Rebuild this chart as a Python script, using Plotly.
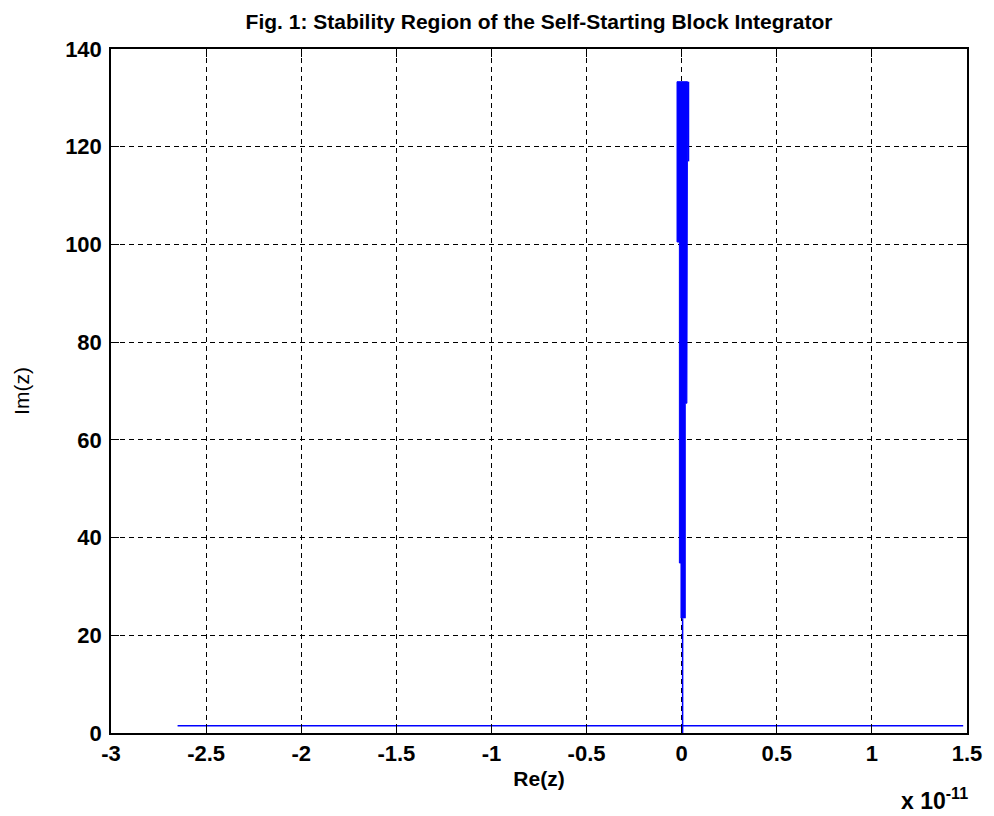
import plotly.graph_objects as go

# Values (x in units of 1e-11)
base_x = [-2.65, 1.48]
base_y = [1.5, 1.5]

stem_x = [0.005, 0.005]
stem_y = [0.0, 23.5]

# envelope of the dense oscillating band near Re(z)=0
band_left_x = [-0.0036, -0.0036, -0.012, -0.012, -0.0244, -0.0244]
band_left_y = [23.5, 34.8, 34.8, 100.5, 100.5, 133.3]
band_right_x = [0.031, 0.031, 0.0275, 0.0275, 0.019, 0.019]
band_right_y = [133.3, 111.0, 111.0, 67.5, 67.5, 23.5]

spike_x = [0.036, 0.036]
spike_y = [117.0, 133.3]

x_ticks = [-3, -2.5, -2, -1.5, -1, -0.5, 0, 0.5, 1, 1.5]
y_ticks = [0, 20, 40, 60, 80, 100, 120, 140]

BLUE = "#0000FF"

fig = go.Figure()
fig.add_trace(go.Scatter(x=base_x, y=base_y, mode="lines",
                         line=dict(color=BLUE, width=1.5), showlegend=False))
fig.add_trace(go.Scatter(x=stem_x, y=stem_y, mode="lines",
                         line=dict(color=BLUE, width=1.5), showlegend=False))
fig.add_trace(go.Scatter(x=band_left_x + band_right_x, y=band_left_y + band_right_y,
                         mode="lines", fill="toself", fillcolor=BLUE,
                         line=dict(color=BLUE, width=1), showlegend=False))
fig.add_trace(go.Scatter(x=spike_x, y=spike_y, mode="lines",
                         line=dict(color=BLUE, width=1.5), showlegend=False))

FONT = "Liberation Sans, Arial, sans-serif"
axis_font = dict(family=FONT, size=22, color="black")

# page has an 8px body margin, so the figure is placed at (8, 8)
fig.update_layout(
    width=986, height=808,
    margin=dict(l=97, r=22, t=41, b=83),
    paper_bgcolor="white", plot_bgcolor="white",
    title=dict(text="<b>Fig. 1: Stability Region of the Self-Starting Block Integrator</b>",
               x=0.5, xref="paper", xanchor="center", y=1, yref="paper", yanchor="bottom",
               pad=dict(b=20),
               font=dict(family=FONT, size=21, color="black")),
    font=dict(family=FONT, color="black"),
)

fig.update_xaxes(
    range=[-3, 1.5], tickvals=x_ticks, ticktext=[f"<b>{v:g}</b>" for v in x_ticks],
    tickfont=axis_font, ticks="inside", ticklen=8, tickcolor="black", tickwidth=1,
    showline=True, linecolor="black", linewidth=1.5, mirror="ticks",
    showgrid=True, gridcolor="black", gridwidth=1, griddash="5px,4px",
    zeroline=False,
    title=dict(text="<b>Re(z)</b>", font=dict(family=FONT, size=21), standoff=6),
)
fig.update_yaxes(
    range=[0, 140], tickvals=y_ticks, ticktext=[f"<b>{v}</b>" for v in y_ticks],
    tickfont=axis_font, ticks="inside", ticklen=8, tickcolor="black", tickwidth=1,
    showline=True, linecolor="black", linewidth=1.5, mirror="ticks",
    showgrid=True, gridcolor="black", gridwidth=1, griddash="5px,4px",
    zeroline=False, ticklabelstandoff=3,
    title=dict(text="Im(z)", font=dict(family=FONT, size=21), standoff=30),
)

fig.add_annotation(text="<b>x 10<sup>-11</sup></b>", xref="paper", yref="paper",
                   x=1.004, y=-0.072, xanchor="right", yanchor="top", showarrow=False,
                   font=dict(family=FONT, size=23, color="black"))

fig.write_html("out.html")
